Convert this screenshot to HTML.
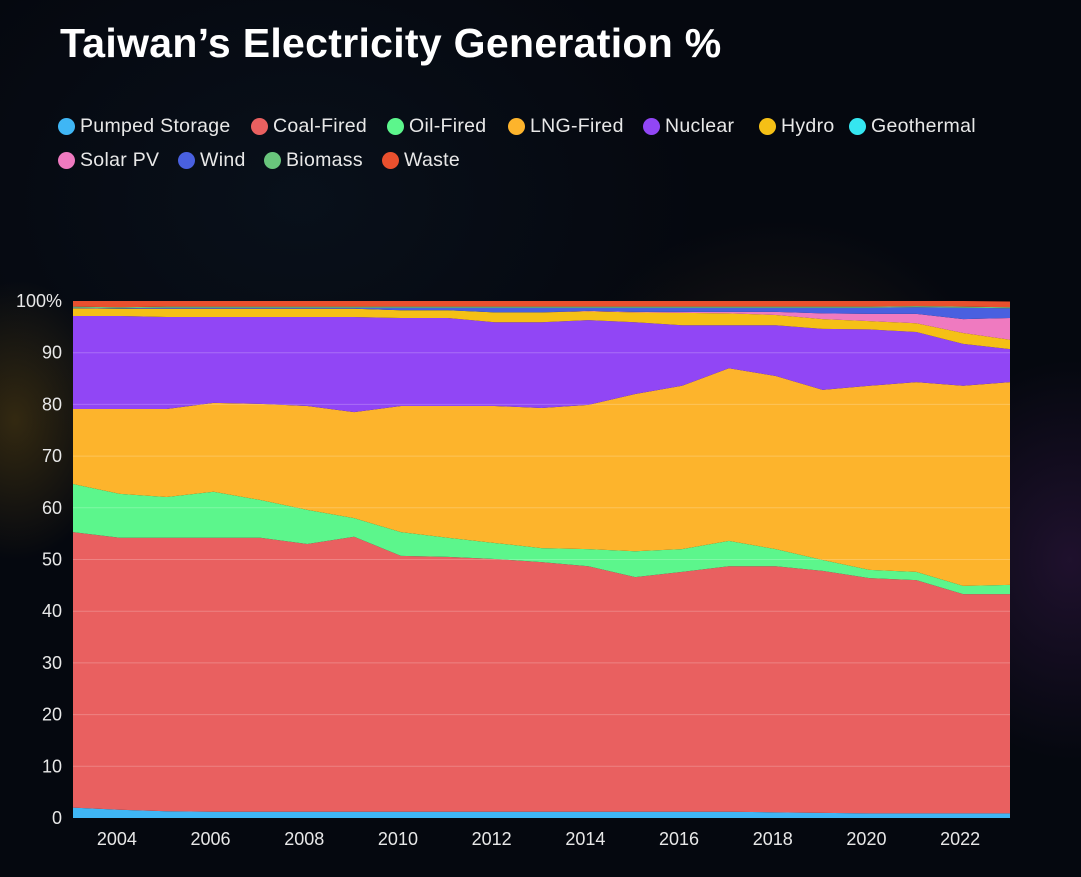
<!DOCTYPE html>
<html><head><meta charset="utf-8"><style>
body{margin:0;width:1081px;height:877px;overflow:hidden;background:#05080f;font-family:"Liberation Sans",sans-serif;}
#bg{position:absolute;left:0;top:0;width:1081px;height:877px;background:
radial-gradient(ellipse 220px 200px at 780px 420px,rgba(60,45,30,0.45),transparent),
radial-gradient(ellipse 100px 140px at 15px 420px,rgba(120,90,20,0.4),transparent),
radial-gradient(ellipse 160px 200px at 1070px 560px,rgba(70,30,90,0.4),transparent),
radial-gradient(ellipse 400px 300px at 300px 200px,rgba(20,40,60,0.25),transparent),#05080f;}
.title{position:absolute;left:60px;top:20px;color:#fff;font-size:41px;font-weight:bold;letter-spacing:0.3px;}
.leg{position:absolute;color:#e8e8e8;font-size:19.5px;display:flex;align-items:center;white-space:nowrap;letter-spacing:0.3px;}
.leg i{display:inline-block;width:17px;height:17px;border-radius:50%;margin-right:5px;}
svg{position:absolute;left:0;top:0;}
</style></head><body>
<div id="bg"></div>
<div class="title">Taiwan’s Electricity Generation %</div>
<div id="legend"></div>
<svg id="chart" width="1081" height="877"></svg>
<script>
const years=[2003,2004,2005,2006,2007,2008,2009,2010,2011,2012,2013,2014,2015,2016,2017,2018,2019,2020,2021,2022,2023];
const seriesNames=["Pumped Storage","Coal-Fired","Oil-Fired","LNG-Fired","Nuclear","Hydro","Geothermal","Solar PV","Wind","Biomass","Waste"];
const pumped=[2.0,1.6,1.3,1.2,1.2,1.2,1.2,1.2,1.2,1.2,1.2,1.2,1.2,1.2,1.2,1.1,1.0,0.9,0.9,0.9,0.9];
const coal=[53.3,52.6,52.9,53.0,53.0,51.8,53.2,49.5,49.3,48.9,48.3,47.5,45.4,46.4,47.5,47.6,46.8,45.5,45.1,42.4,42.4];
const oil=[9.3,8.5,7.9,8.9,7.3,6.6,3.6,4.6,3.7,3.1,2.7,3.3,5.0,4.4,4.9,3.3,2.1,1.6,1.6,1.6,1.8];
const lng=[14.5,16.4,17.0,17.2,18.6,20.1,20.5,24.4,25.5,26.5,27.1,27.9,30.4,31.6,33.4,33.5,32.9,35.6,36.7,38.7,39.2];
const nuclear=[18.0,18.0,17.8,16.6,16.8,17.2,18.4,17.0,17.0,16.2,16.6,16.4,13.9,11.7,8.3,9.8,11.8,10.9,9.7,8.1,6.4];
const hydro=[1.5,1.4,1.6,1.6,1.6,1.6,1.6,1.5,1.5,1.9,1.9,1.7,1.9,2.4,2.3,2.0,1.9,1.6,1.7,2.1,1.8];
const geothermal=[0,0,0,0,0,0,0,0,0,0,0,0,0,0,0,0,0,0,0,0,0];
const solar=[0,0,0,0,0,0,0,0,0,0,0,0.1,0.1,0.2,0.3,0.6,1.1,1.4,1.8,2.7,4.2];
const wind=[0.1,0.1,0.2,0.2,0.2,0.2,0.2,0.5,0.5,0.9,0.9,0.6,0.8,0.8,0.8,0.8,1.1,1.2,1.3,2.2,1.9];
const biomass=[0.2,0.2,0.2,0.2,0.2,0.2,0.2,0.2,0.2,0.2,0.2,0.2,0.2,0.2,0.2,0.2,0.2,0.2,0.2,0.2,0.2];
const waste=[1.1,1.2,1.1,1.1,1.1,1.1,1.1,1.1,1.1,1.1,1.1,1.1,1.1,1.1,1.1,1.1,1.1,1.1,1.1,1.1,1.1];
const yTicks=[0,10,20,30,40,50,60,70,80,90,100];
const xTicks=[2004,2006,2008,2010,2012,2014,2016,2018,2020,2022];
const colors=["#3fb6f5","#e96060","#5cf68c","#fdb42c","#9146f5","#f5c016","#35e6f0","#ef7ac0","#4960e0","#69c57c","#e9502e"];
const allSeries=[pumped,coal,oil,lng,nuclear,hydro,geothermal,solar,wind,biomass,waste];

const L=73,R=1010,T=301,B=818;
const x=v=>L+(v-years[0])/(years[years.length-1]-years[0])*(R-L);
const y=v=>B-Math.min(v,100)/100*(B-T);
const NS="http://www.w3.org/2000/svg";
const svg=document.getElementById('chart');
function mk(t,a){const e=document.createElementNS(NS,t);for(const k in a)e.setAttribute(k,a[k]);svg.appendChild(e);return e;}

let base=years.map(()=>0);
allSeries.forEach((s,si)=>{
  const top=base.map((b,i)=>b+s[i]);
  let d="M"+years.map((yr,i)=>x(yr)+","+y(top[i])).join("L");
  for(let i=years.length-1;i>=0;i--) d+="L"+x(years[i])+","+y(base[i]);
  d+="Z";
  const p=mk('path',{d:d,fill:colors[si]});
  
  
  base=top;
});
yTicks.forEach(t=>{
  if(t>0&&t<100){const g=mk('line',{x1:L,x2:R,y1:y(t),y2:y(t),stroke:'rgba(255,255,255,0.22)','stroke-width':1});
  
  }
  const tx=mk('text',{x:62,y:y(t)+6,'text-anchor':'end',fill:'#e8e8e8','font-size':18,'font-family':'Liberation Sans, sans-serif'});
  tx.textContent=t===100?'100%':t;
  
  
});
xTicks.forEach(t=>{
  const tx=mk('text',{x:x(t)-3,y:845,'text-anchor':'middle',fill:'#e8e8e8','font-size':18,'font-family':'Liberation Sans, sans-serif'});
  tx.textContent=t;
  
  
});
const legPos=[[58,126],[251,126],[387,126],[508,126],[643,126],[759,126],[849,126],[58,160],[178,160],[264,160],[382,160]];
const leg=document.getElementById('legend');
seriesNames.forEach((n,i)=>{
  const d=document.createElement('div');
  d.className='leg';
  d.style.left=legPos[i][0]+'px';d.style.top=(legPos[i][1]-11)+'px';
  d.innerHTML='<i style="background:'+colors[i]+'"></i>'+n;
  
  
  leg.appendChild(d);
});
</script>
</body></html>
